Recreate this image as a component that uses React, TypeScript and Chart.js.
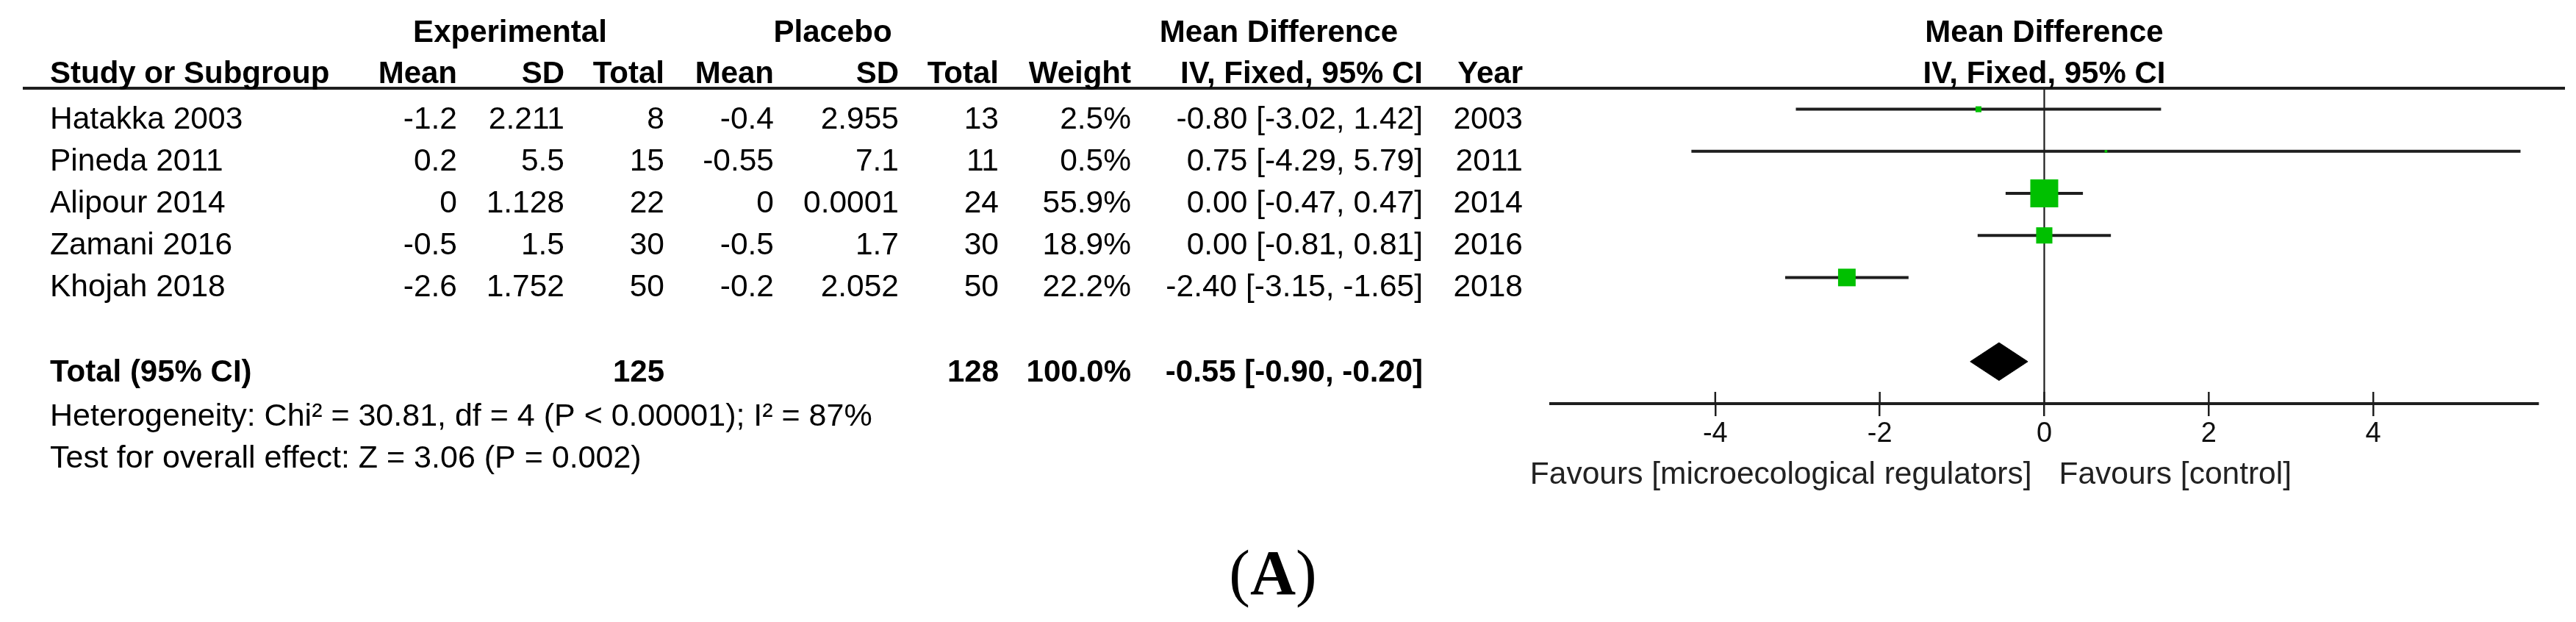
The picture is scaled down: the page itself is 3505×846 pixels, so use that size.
import React, { useEffect, useRef } from 'react';
import { Chart, registerables } from 'chart.js';

Chart.register(...registerables);

// ---------------- data ----------------
const studies = ['Hatakka 2003', 'Pineda 2011', 'Alipour 2014', 'Zamani 2016', 'Khojah 2018'];
const expMean = [-1.2, 0.2, 0, -0.5, -2.6];
const expSD = [2.211, 5.5, 1.128, 1.5, 1.752];
const expTotal = [8, 15, 22, 30, 50];
const plaMean = [-0.4, -0.55, 0, -0.5, -0.2];
const plaSD = [2.955, 7.1, 0.0001, 1.7, 2.052];
const plaTotal = [13, 11, 24, 30, 50];
const weights = [2.5, 0.5, 55.9, 18.9, 22.2];
const meanDiff = [-0.8, 0.75, 0.0, 0.0, -2.4];
const ciLow = [-3.02, -4.29, -0.47, -0.81, -3.15];
const ciHigh = [1.42, 5.79, 0.47, 0.81, -1.65];
const years = [2003, 2011, 2014, 2016, 2018];

const totalExp = 125;
const totalPla = 128;
const totalWeight = 100.0;
const pooled = -0.55;
const pooledLow = -0.9;
const pooledHigh = -0.2;

const chi2 = 30.81;
const hetDf = 4;
const hetP = '< 0.00001';
const i2 = 87;
const zValue = 3.06;
const zP = 0.002;

const xTicks = [-4, -2, 0, 2, 4];
const xMin = -6;
const xMax = 6;
const favoursLeft = 'Favours [microecological regulators]';
const favoursRight = 'Favours [control]';
const panelLabel = 'A';

// ---------------- layout / style ----------------
const W = 3505;
const H = 846;
const TOTAL_ROW = 6;
const Y_MIN = -0.5;
const Y_MAX = 7;
const SQUARE_K = 5.08; // side px per sqrt(weight)
const DIAMOND_HALF = 0.45;
const FONT = '"Liberation Sans", Arial, sans-serif';
const BODY = 42.5;
const COL = {
  name: 68,
  expMean: 622,
  expSD: 768,
  expTotal: 904,
  plaMean: 1053,
  plaSD: 1223,
  plaTotal: 1359,
  weight: 1539,
  ci: 1936,
  year: 2072,
};
const GROUP = { exp: 694, pla: 1133, md: 1740 };
const GREEN = '#00c000';
const INK = '#1e1e1e';

const fmt2 = (v: number) => v.toFixed(2);
const ciText = (m: number, lo: number, hi: number) => `${fmt2(m)} [${fmt2(lo)}, ${fmt2(hi)}]`;

const tablePlugin = {
  id: 'forestTable',
  beforeDatasetsDraw(chart: any) {
    const ctx = chart.ctx as CanvasRenderingContext2D;
    const xs = chart.scales.x;
    const area = chart.chartArea;
    ctx.save();
    ctx.strokeStyle = INK;
    ctx.lineWidth = 2.5;
    xTicks.forEach((v) => {
      const px = xs.getPixelForValue(v);
      ctx.beginPath();
      ctx.moveTo(px, area.bottom - 16);
      ctx.lineTo(px, area.bottom);
      ctx.stroke();
    });
    ctx.restore();
  },
  afterDraw(chart: any) {
    const ctx = chart.ctx as CanvasRenderingContext2D;
    const xs = chart.scales.x;
    const ys = chart.scales.y;
    const yp = (v: number) => ys.getPixelForValue(v);
    const txt = (s: string, x: number, y: number, align: CanvasTextAlign, bold = false, size = BODY, color = '#000') => {
      ctx.font = `${bold ? 'bold ' : ''}${size}px ${FONT}`;
      ctx.textAlign = align;
      ctx.textBaseline = 'alphabetic';
      ctx.fillStyle = color;
      ctx.fillText(s, x, y);
    };
    ctx.save();

    // header rule
    ctx.strokeStyle = INK;
    ctx.lineWidth = 4;
    ctx.beginPath();
    ctx.moveTo(31, yp(Y_MIN));
    ctx.lineTo(3490, yp(Y_MIN));
    ctx.stroke();

    const zeroPx = xs.getPixelForValue(0);
    const h1 = yp(-2.05) + 26;
    const h2 = yp(-1.08) + 26;
    txt('Experimental', GROUP.exp, h1, 'center', true, 42);
    txt('Placebo', GROUP.pla, h1, 'center', true, 42);
    txt('Mean Difference', GROUP.md, h1, 'center', true, 42);
    txt('Mean Difference', zeroPx, h1, 'center', true, 42);

    txt('Study or Subgroup', COL.name, h2, 'left', true, 42);
    txt('Mean', COL.expMean, h2, 'right', true, 42);
    txt('SD', COL.expSD, h2, 'right', true, 42);
    txt('Total', COL.expTotal, h2, 'right', true, 42);
    txt('Mean', COL.plaMean, h2, 'right', true, 42);
    txt('SD', COL.plaSD, h2, 'right', true, 42);
    txt('Total', COL.plaTotal, h2, 'right', true, 42);
    txt('Weight', COL.weight, h2, 'right', true, 42);
    txt('IV, Fixed, 95% CI', COL.ci, h2, 'right', true, 42);
    txt('Year', COL.year, h2, 'right', true, 42);
    txt('IV, Fixed, 95% CI', zeroPx, h2, 'center', true, 42);

    studies.forEach((s, i) => {
      const y = yp(i) + 26;
      txt(s, COL.name, y, 'left');
      txt(String(expMean[i]), COL.expMean, y, 'right');
      txt(String(expSD[i]), COL.expSD, y, 'right');
      txt(String(expTotal[i]), COL.expTotal, y, 'right');
      txt(String(plaMean[i]), COL.plaMean, y, 'right');
      txt(String(plaSD[i]), COL.plaSD, y, 'right');
      txt(String(plaTotal[i]), COL.plaTotal, y, 'right');
      txt(`${weights[i].toFixed(1)}%`, COL.weight, y, 'right');
      txt(ciText(meanDiff[i], ciLow[i], ciHigh[i]), COL.ci, y, 'right');
      txt(String(years[i]), COL.year, y, 'right');
    });

    const ty = yp(TOTAL_ROW) + 27;
    txt('Total (95% CI)', COL.name, ty, 'left', true, 42);
    txt(String(totalExp), COL.expTotal, ty, 'right', true, 42);
    txt(String(totalPla), COL.plaTotal, ty, 'right', true, 42);
    txt(`${totalWeight.toFixed(1)}%`, COL.weight, ty, 'right', true, 42);
    txt(ciText(pooled, pooledLow, pooledHigh), COL.ci, ty, 'right', true, 42);

    txt(`Heterogeneity: Chi\u00b2 = ${chi2}, df = ${hetDf} (P ${hetP}); I\u00b2 = ${i2}%`, COL.name, yp(7.07) + 26, 'left', false, 43);
    txt(`Test for overall effect: Z = ${zValue} (P = ${zP})`, COL.name, yp(8.07) + 26, 'left', false, 43);

    const fy = yp(8.45) + 26;
    txt(favoursLeft, zeroPx - 17, fy, 'right', false, 42.5, '#222');
    txt(favoursRight, zeroPx + 20, fy, 'left', false, 42.5, '#222');

    // panel caption "(A)" with bold letter
    ctx.textBaseline = 'alphabetic';
    ctx.textAlign = 'left';
    ctx.fillStyle = '#000';
    const reg = `86px "Liberation Serif", "Times New Roman", serif`;
    const bold = `bold 86px "Liberation Serif", "Times New Roman", serif`;
    ctx.font = reg;
    const wo = ctx.measureText('(').width;
    const wc = ctx.measureText(')').width;
    ctx.font = bold;
    const wa = ctx.measureText(panelLabel).width;
    let cx = 1732 - (wo + wa + wc) / 2;
    ctx.font = reg;
    ctx.fillText('(', cx, 808);
    cx += wo;
    ctx.font = bold;
    ctx.fillText(panelLabel, cx, 808);
    cx += wa;
    ctx.font = reg;
    ctx.fillText(')', cx, 808);

    ctx.restore();
  },
};

export default function App() {
  const ref = useRef<HTMLCanvasElement>(null);

  useEffect(() => {
    document.body.style.margin = '0';
    const canvas = ref.current;
    if (!canvas) return;

    const datasets: any[] = [];
    // studies' squares (on top)
    datasets.push({
      label: 'estimates',
      data: meanDiff.map((m, i) => ({ x: m, y: i })),
      showLine: false,
      pointStyle: 'rect',
      pointRadius: weights.map((w) => (SQUARE_K * Math.sqrt(w)) / Math.SQRT2),
      pointBackgroundColor: GREEN,
      pointBorderColor: GREEN,
      pointBorderWidth: 0,
      order: 0,
    });
    // pooled diamond
    datasets.push({
      label: 'pooled',
      data: [
        { x: pooledLow, y: TOTAL_ROW },
        { x: pooled, y: TOTAL_ROW - DIAMOND_HALF },
        { x: pooledHigh, y: TOTAL_ROW },
        { x: pooled, y: TOTAL_ROW + DIAMOND_HALF },
        { x: pooledLow, y: TOTAL_ROW },
      ],
      borderColor: '#000',
      backgroundColor: '#000',
      borderWidth: 1,
      fill: 'shape',
      pointRadius: 0,
      order: 0,
    });
    // CI lines
    studies.forEach((s, i) => {
      datasets.push({
        label: s,
        data: [
          { x: ciLow[i], y: i },
          { x: ciHigh[i], y: i },
        ],
        borderColor: INK,
        borderWidth: 4,
        pointRadius: 0,
        order: 1,
      });
    });
    // line of no effect
    datasets.push({
      label: 'zero',
      data: [
        { x: 0, y: Y_MIN },
        { x: 0, y: Y_MAX },
      ],
      borderColor: INK,
      borderWidth: 2.2,
      pointRadius: 0,
      order: 2,
    });

    const chart = new Chart(canvas, {
      type: 'line',
      data: { datasets },
      options: {
        animation: false,
        responsive: false,
        events: [],
        layout: { padding: { left: 2110, right: 52, top: 120, bottom: 237 } },
        plugins: {
          legend: { display: false },
          tooltip: { enabled: false },
          title: { display: false },
        },
        scales: {
          x: {
            type: 'linear',
            min: xMin,
            max: xMax,
            afterBuildTicks: (s: any) => {
              s.ticks = xTicks.map((v) => ({ value: v }));
            },
            afterFit: (s: any) => {
              s.height = 60;
            },
            grid: {
              display: true,
              drawOnChartArea: false,
              drawTicks: true,
              tickLength: 17,
              color: INK,
              lineWidth: 2.5,
            },
            border: { display: true, color: INK, width: 4 },
            ticks: {
              font: { family: FONT, size: 38 },
              color: '#111',
              padding: 2,
              maxRotation: 0,
              autoSkip: false,
              callback: (v: any) => String(v),
            },
          },
          y: {
            type: 'linear',
            min: Y_MIN,
            max: Y_MAX,
            reverse: true,
            display: false,
          },
        },
      } as any,
      plugins: [tablePlugin],
    });

    return () => chart.destroy();
  }, []);

  return (
    <div style={{ width: W, height: H, background: '#fff' }}>
      <canvas ref={ref} width={W} height={H} style={{ display: 'block', width: W, height: H }} />
    </div>
  );
}
